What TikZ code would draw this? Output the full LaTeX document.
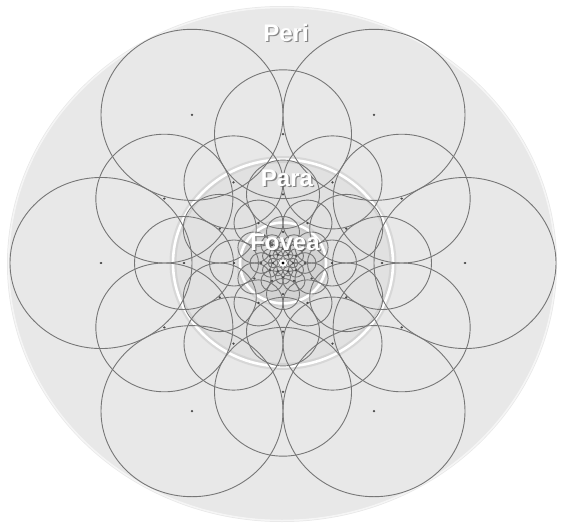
\documentclass[tikz,border=0pt]{standalone}
\usepackage{fontspec}
\setmainfont{Liberation Sans}
\usetikzlibrary{calc}
\definecolor{retinabg}{HTML}{E8E8E8}
\definecolor{parabg}{HTML}{E1E1E1}
\definecolor{foveabg}{HTML}{D3D3D3}
\definecolor{fieldline}{HTML}{767676}
\definecolor{labelshade}{HTML}{3A3A3A}

\tikzset{
  field/.style={draw=fieldline, line width=0.9pt},
  fielddot/.style={fill=fieldline!60!black},
  zonering/.style={draw=white, line width=2.6pt},
  zonehalo/.style={draw=black!30, line width=7pt, opacity=0.3},
  zonetext/.style={font=\bfseries\fontsize{24}{24}\selectfont, text=white, inner sep=0pt},
  zoneshadow/.style={zonetext, text=labelshade, opacity=0.55},
}
\newcommand{\zonelabel}[3]{% name, position, text
  \node[zoneshadow] at ($(#2)+(1.3,1.3)$) {#3};
  \node[zonetext] (#1) at (#2) {#3};}

\begin{document}
\begin{tikzpicture}[x=1pt,y=-1pt]
  \useasboundingbox (0,0) rectangle (562,527);
  \coordinate (c) at (283,263);
  % retina disk
  \fill[retinabg] (282,264) ellipse [x radius=275, y radius=258];
  \draw[white, line width=1.5pt, opacity=0.6] (282,264) ellipse [x radius=273.5, y radius=256.5];
  \begin{scope}[shift={(c)}, yscale=0.94]
    % zones
    \fill[parabg] (0,0) circle [radius=110];
    \fill[foveabg] (0,0) circle [radius=43];
    \foreach \r in {110,43} {
      \draw[zonehalo] (0,0) circle [radius=\r];
      \draw[zonering] (0,0) circle [radius=\r];
    }
    % receptive fields: distance/angle offset
    \foreach \d/\a in {182/0,137/30,99/0,73/30,49/0,33/30,22/0,15/30,10/0}
      \foreach \k in {0,...,5} {
        \draw[field] (\a+60*\k:\d) circle [radius=\d/2];
        \fill[fielddot] (\a+60*\k:\d) circle [radius=1.3];
      }
    % centre
    \fill[white] (0,0) circle [radius=4.5];
    \draw[fieldline, line width=0.5pt] (0,0) circle [radius=4.5];
    \fill[black] (0,0) circle [radius=1.6];
  \end{scope}
  % zone labels
  \zonelabel{peri}{286,33}{Peri}
  \zonelabel{para}{287,178}{Para}
  \zonelabel{fovea}{285,242}{Fovea}
\end{tikzpicture}
\end{document}
